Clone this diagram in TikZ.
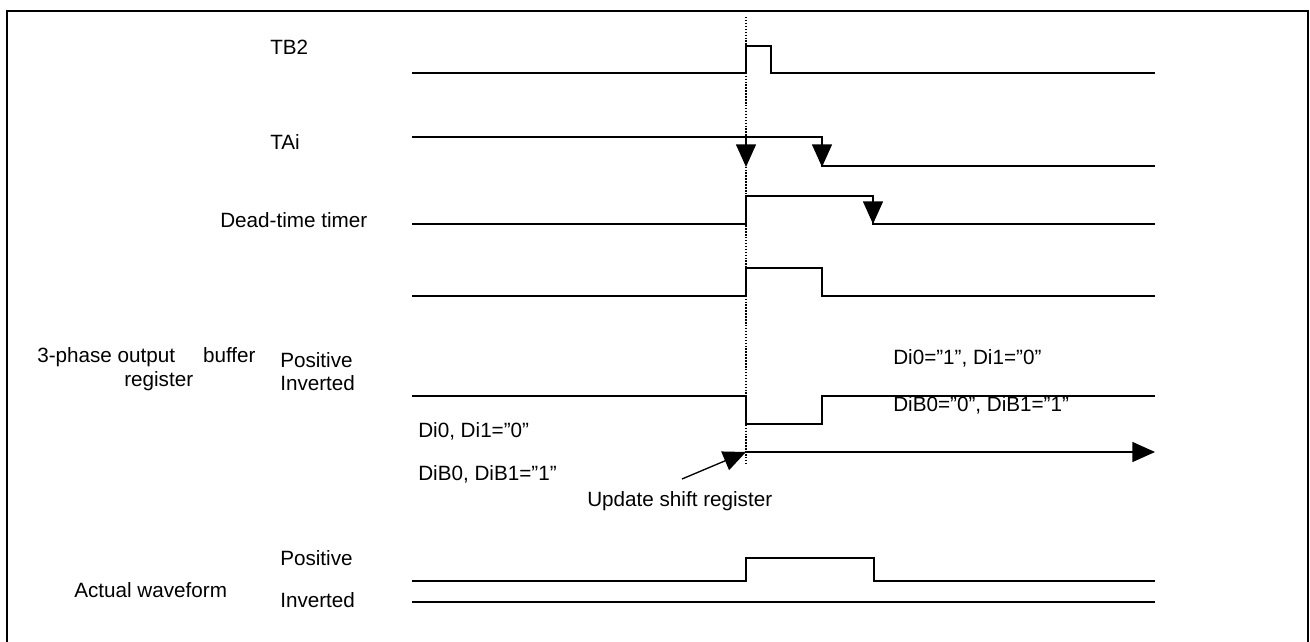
\documentclass[tikz,border=0pt]{standalone}
\usepackage{fontspec}
\setmainfont{Liberation Sans}
\usetikzlibrary{arrows.meta}
\begin{document}
\begin{tikzpicture}[x=0.75pt,y=-0.75pt,
  lbl/.style={anchor=base west,inner sep=0pt,font=\fontsize{15.5}{19}\selectfont},
  thin/.style={line width=1pt,line join=miter},
  thick2/.style={line width=2.2pt},
  act/.style={line width=2.1pt,line join=miter},
  tip/.style={-{Triangle[length=17pt,width=15pt]}},
  guide/.style={line width=0.8pt,dash pattern=on 1.1pt off 1.1pt}]
\useasboundingbox (0,0) rectangle (1310,642);
\draw[line width=1.4pt] (7,660) -- (7,11) -- (1308,11) -- (1308,660);
% labels
\node[lbl] (tb2) at (270,55) {TB2};
\node[lbl] (tai) at (270,149) {TAi};
\node[lbl] (dtt) at (220,227) {Dead-time timer};
\node[lbl] (tpo) at (37,362) {3-phase output\hspace{21pt}buffer};
\node[lbl] (pos1) at (280,367) {Positive};
\node[lbl] (reg) at (124,386) {register};
\node[lbl] (inv1) at (280,390) {Inverted};
\node[lbl] (d1) at (418,437) {Di0, Di1=”0”};
\node[lbl] (d2) at (418,480) {DiB0, DiB1=”1”};
\node[lbl] (d3) at (893,364) {Di0=”1”, Di1=”0”};
\node[lbl] (d4) at (893,411) {DiB0=”0”, DiB1=”1”};
\node[lbl] (usr) at (587,506) {Update shift register};
\node[lbl] (aw) at (74,597) {Actual waveform};
\node[lbl] (pos2) at (280,565) {Positive};
\node[lbl] (inv2) at (280,607) {Inverted};
% guide
\coordinate (gt) at (746,17);
\coordinate (gb) at (746,465);
\draw[guide] (gt) -- (gb);
% TB2
\draw[thin] (412,73) -- (746,73) -- (746,46) -- (771,46) -- (771,73) -- (1155,73);
% TAi
\draw[thin] (412,137) -- (822,137) -- (822,166) -- (1155,166);
\coordinate (a1s) at (746,137); \coordinate (a1e) at (746,167);
\coordinate (a2s) at (822,137); \coordinate (a2e) at (822,167);
\draw[thin,tip] (a1s) -- (a1e);
\draw[thin,tip] (a2s) -- (a2e);
% Dead-time timer
\draw[thin] (412,224) -- (746,224) -- (746,196) -- (873,196) -- (873,224) -- (1155,224);
\coordinate (a3s) at (873,196); \coordinate (a3e) at (873,224);
\draw[thin,tip] (a3s) -- (a3e);
% 4th signal
\draw[thick2] (412,296) -- (746,296);
\draw[thin] (746,296) -- (746,268) -- (822,268) -- (822,296) -- (1155,296);
% Inverted register
\draw[thick2] (412,396) -- (746,396);
\draw[thin] (746,396) -- (746,424) -- (822,424) -- (822,396) -- (1155,396);
% shift arrow
\coordinate (hs) at (746,452); \coordinate (he) at (1155,452);
\draw[thin,tip] (hs) -- (he);
\coordinate (ds) at (682,479);
\draw[thin,tip] (ds) -- (hs);
% actual waveform
\draw[act] (412,581) -- (746,581) -- (746,558) -- (874,558) -- (874,581) -- (1155,581);
\draw[act] (412,602) -- (1155,602);
\end{tikzpicture}
\end{document}
